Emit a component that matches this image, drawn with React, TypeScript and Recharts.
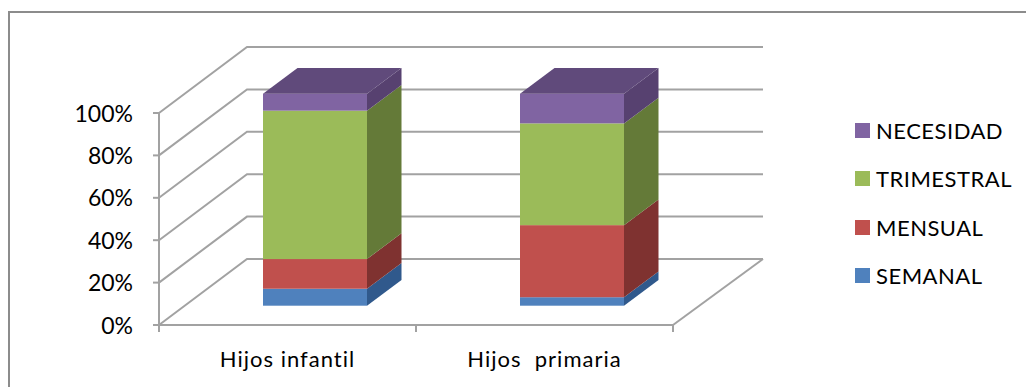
import React from 'react';
import { BarChart, Bar, XAxis, YAxis, CartesianGrid, Legend } from 'recharts';

// Share of answers per school stage, in percent.
const categories = ['Hijos infantil', 'Hijos  primaria'];
const semanal = [8, 4];
const mensual = [14, 34];
const trimestral = [70, 48];
const necesidad = [8, 14];

const seriesNames = ['SEMANAL', 'MENSUAL', 'TRIMESTRAL', 'NECESIDAD'];
const seriesValues = [semanal, mensual, trimestral, necesidad];
const frontColors = ['#4f81bd', '#c0504d', '#9bbb59', '#8064a2'];
const sideColors = ['#30598c', '#7f3230', '#647a38', '#574170'];
const TOP_COLOR = '#604a7b';
const yTicks = [0, 20, 40, 60, 80, 100];

const rows = categories.map((name, i) => {
  const row: Record<string, string | number> = { name };
  seriesNames.forEach((s, k) => {
    row[s] = seriesValues[k][i];
  });
  return row;
});

// Oblique projection used for the fake 3D box.
const WALL_DX = 88;
const WALL_DY = -66;
const WALL_EXTRA = 2;
const BAR_DX = 27;
const BAR_DY = -19.3;
const DEPTH_DX = 34.5;
const DEPTH_DY = -25.7;

const LINE = '#a2a2a2';
const FONT = 'Lato, sans-serif';
const PLOT_LEFT = 159;
const PLOT_TOP = 113;
const PLOT_W = 514;
const PLOT_H = 212;
const TICK_LEN = 7;

// One horizontal gridline folded along the side wall and the back wall.
// The floor line also closes the floor and marks the category boundaries.
function WallLine(props: any) {
  const { x1, x2, y1 } = props;
  const bx = x1 + WALL_DX;
  const by = y1 + WALL_DY;
  const isFloor = Math.abs(y1 - (PLOT_TOP + PLOT_H)) < 1;
  const boundaries = [0, ...categories.map((_, i) => i + 1)];
  return (
    <g fill="none" stroke={LINE} strokeWidth={2}>
      <polyline points={`${x1},${y1} ${bx},${by} ${x2 + WALL_DX + WALL_EXTRA},${by}`} />
      {isFloor && <line x1={x2} y1={y1} x2={x2 + WALL_DX + 2} y2={by} />}
      {isFloor &&
        boundaries.map((b) => {
          const tx = x1 + ((x2 - x1) * b) / categories.length;
          return <line key={b} x1={tx} y1={y1} x2={tx} y2={y1 + TICK_LEN} />;
        })}
    </g>
  );
}

// A stacked segment drawn as a cuboid pushed back from the front plane.
function Cuboid(props: any) {
  const { x, y, width, height, seriesIndex } = props;
  const fx = x + BAR_DX;
  const fy = y + BAR_DY;
  const r = fx + width;
  const b = fy + height;
  const capped = seriesIndex === seriesNames.length - 1;
  return (
    <g>
      <polygon
        points={`${r},${fy} ${r + DEPTH_DX},${fy + DEPTH_DY} ${r + DEPTH_DX},${b + DEPTH_DY} ${r},${b}`}
        fill={sideColors[seriesIndex]}
      />
      <rect x={fx} y={fy} width={width} height={height} fill={frontColors[seriesIndex]} />
      {capped && (
        <polygon
          points={`${fx},${fy} ${fx + DEPTH_DX},${fy + DEPTH_DY} ${r + DEPTH_DX},${fy + DEPTH_DY} ${r},${fy}`}
          fill={TOP_COLOR}
        />
      )}
    </g>
  );
}

function CategoryTick(props: any) {
  const { x, payload } = props;
  return (
    <text
      x={x}
      y={PLOT_TOP + PLOT_H + 42}
      textAnchor="middle"
      fontFamily={FONT}
      fontSize={22}
      letterSpacing={1}
      fill="#000"
      style={{ whiteSpace: 'pre' }}
    >
      {payload.value}
    </text>
  );
}

function PercentTick(props: any) {
  const { payload, y } = props;
  return (
    <text x={133} y={y + 8.5} textAnchor="end" fontFamily={FONT} fontSize={23} fill="#000">
      {`${payload.value}%`}
    </text>
  );
}

function LegendList(props: any) {
  const items = [...(props.payload ?? [])].reverse();
  return (
    <div style={{ position: 'relative', width: 170, height: 200 }}>
      {items.map((item: any, i: number) => (
        <div
          key={item.value}
          style={{
            position: 'absolute',
            left: 0,
            top: i * 48.3,
            height: 15,
            display: 'flex',
            alignItems: 'center',
            whiteSpace: 'nowrap',
            fontFamily: FONT,
            fontSize: 22,
            letterSpacing: 0.5,
            color: '#000',
          }}
        >
          <span style={{ width: 15, height: 15, background: item.color, marginRight: 6 }} />
          {item.value}
        </div>
      ))}
    </div>
  );
}

export default function App() {
  return (
    <div style={{ position: 'absolute', left: 0, top: 0, width: 1026, height: 387, background: '#fff', overflow: 'hidden' }}>
      <div
        style={{
          position: 'absolute',
          left: 8,
          top: 11,
          width: 1026,
          height: 387,
          borderLeft: '2px solid #8c8c8c',
          borderTop: '2px solid #8c8c8c',
        }}
      />
      <div style={{ position: 'absolute', left: 0, top: 0 }}>
        <BarChart
          width={1026}
          height={387}
          data={rows}
          margin={{ left: 0, top: PLOT_TOP, right: 1026 - PLOT_LEFT - PLOT_W, bottom: 0 }}
          barSize={104}
        >
          <CartesianGrid vertical={false} horizontal={(p: any) => <WallLine key={p.key} {...p} />} syncWithTicks />
          <XAxis
            dataKey="name"
            height={387 - PLOT_TOP - PLOT_H}
            tick={<CategoryTick />}
            interval={0}
            axisLine={{ stroke: LINE, strokeWidth: 2 }}
            tickLine={false}
          />
          <YAxis
            domain={[0, 100]}
            ticks={yTicks}
            width={PLOT_LEFT}
            tickSize={6}
            tick={<PercentTick />}
            axisLine={{ stroke: LINE, strokeWidth: 2 }}
            tickLine={{ stroke: LINE, strokeWidth: 2 }}
          />
          <Legend
            layout="vertical"
            align="center"
            verticalAlign="middle"
            itemSorter={null}
            content={<LegendList />}
            wrapperStyle={{ left: 855, top: 123, width: 170 }}
          />
          {seriesNames.map((s, k) => (
            <Bar
              key={s}
              dataKey={s}
              name={s}
              stackId="total"
              fill={frontColors[k]}
              isAnimationActive={false}
              shape={(p: any) => <Cuboid {...p} seriesIndex={k} />}
            />
          ))}
        </BarChart>
      </div>
    </div>
  );
}
